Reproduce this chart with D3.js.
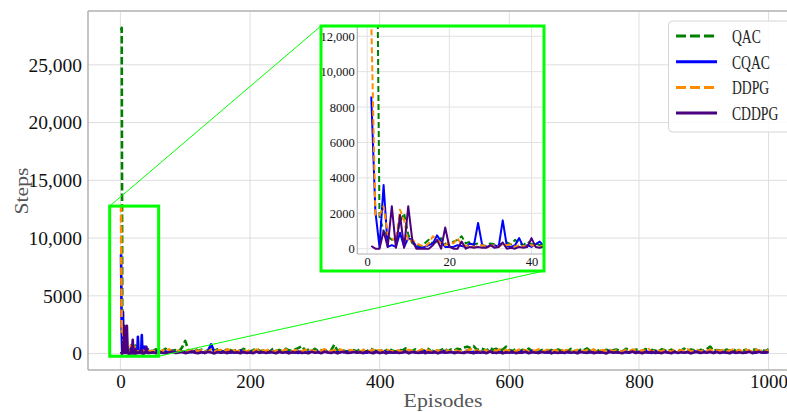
<!DOCTYPE html>
<html>
<head>
<meta charset="utf-8">
<script src="https://cdn.jsdelivr.net/npm/d3@7"></script>
<style>
  body { margin: 0; background: #fff; }
  .tick text { font-family: "Liberation Serif", "DejaVu Serif", serif; fill: #111; }
  .axlabel { font-family: "Liberation Serif", serif; fill: #555; }
</style>
</head>
<body>
<svg id="chart" width="787" height="412"></svg>
<script>
"use strict";

// episodes 1..44, one value per episode
var earlyQAC = [28000, 28200, 1800, 1000, 700, 500, 600, 1500, 2000, 800, 300, 200, 100, 300, 500, 300,
  400, 600, 300, 200, 400, 500, 700, 300, 400, 250, 300, 200, 150, 300, 250, 200, 300, 350, 250, 500,
  300, 200, 400, 250, 300, 200, 250, 350];
var earlyCQAC = [8600, 2100, 100, 3600, 100, 200, 100, 900, 100, 600, 500, 100, 50, 100, 200, 300,
  750, 400, 100, 100, 100, 200, 150, 100, 300, 200, 1450, 200, 100, 150, 200, 100, 1600, 150, 100, 200,
  600, 100, 200, 100, 250, 400, 150, 200];
var earlyDDPG = [12900, 1900, 1900, 2400, 800, 600, 400, 2200, 1600, 400, 500, 300, 200, 100, 300, 700,
  500, 300, 200, 400, 300, 600, 200, 150, 200, 100, 150, 200, 100, 150, 200, 100, 250, 200, 250, 100,
  200, 150, 100, 200, 150, 100, 200, 250];
var earlyCDDPG = [150, 0, 0, 1000, 100, 2400, 50, 1900, 50, 2400, 450, 0, 0, 0, 0, 200,
  500, 0, 1200, 100, 0, 0, 400, 0, 100, 50, 100, 50, 50, 200, 50, 100, 350, 0, 50, 0,
  100, 50, 100, 600, 100, 50, 100, 80];

// episodes 45..1000, read every 5th episode
var tailQAC = [
  320, 210, 380, 150, 260, 420, 180, 240, 300, 170, 520, 1100, 280, 190, 460, 230,
  340, 160, 290, 600, 210, 380, 250, 170, 430, 300, 190, 360, 220, 410, 260, 180,
  300, 450, 200, 270, 350, 160, 390, 240, 310, 190, 420, 280, 230, 370, 500, 650,
  260, 330, 180, 410, 240, 300, 170, 360, 280, 770, 220, 390, 250, 180, 340, 290,
  200, 380, 260, 150, 430, 310, 220, 350, 190, 280, 400, 240, 170, 330, 260, 450,
  290, 210, 370, 180, 320, 250, 410, 160, 340, 230, 300, 480, 200, 360, 270, 420,
  350, 520, 600, 480, 650, 310, 440, 380, 260, 500, 330, 410, 280, 360, 600, 300,
  240, 380, 190, 320, 270, 430, 210, 350, 180, 290, 400, 230, 310, 170, 360, 250,
  300, 200, 410, 260, 180, 340, 290, 450, 220, 310, 170, 380, 250, 330, 190, 280,
  360, 240, 180, 420, 300, 210, 350, 270, 190, 400, 230, 320, 260, 170, 380, 290,
  220, 340, 190, 310, 260, 430, 200, 360, 280, 180, 330, 250, 410, 600, 240, 300,
  270, 190, 350, 230, 400, 180, 310, 260, 340, 210, 290, 370, 240, 320, 200, 380];
var tailCQAC = [
  150, 90, 210, 120, 60, 180, 100, 250, 80, 140, 200, 70, 160, 110, 230, 90,
  130, 60, 190, 800, 110, 170, 80, 220, 140, 70, 190, 100, 260, 120, 80, 150,
  100, 180, 60, 210, 130, 90, 240, 70, 160, 110, 200, 80, 150, 120, 60, 190,
  140, 80, 230, 100, 170, 60, 200, 120, 90, 180, 70, 250, 110, 150, 80, 210,
  90, 160, 120, 70, 220, 100, 180, 60, 140, 200, 90, 130, 80, 240, 110, 170,
  60, 190, 100, 150, 80, 210, 120, 70, 180, 130, 90, 230, 110, 160, 70, 200,
  120, 80, 260, 100, 150, 70, 190, 130, 90, 220, 60, 170, 110, 140, 80, 210,
  100, 160, 70, 200, 130, 90, 240, 110, 60, 180, 140, 80, 220, 100, 150, 70,
  190, 120, 80, 170, 60, 230, 110, 150, 90, 200, 130, 70, 180, 100, 250, 80,
  140, 90, 210, 120, 70, 190, 100, 160, 80, 230, 110, 60, 170, 140, 90, 200,
  70, 180, 120, 90, 240, 100, 150, 60, 210, 130, 80, 190, 110, 160, 70, 220,
  100, 150, 80, 200, 130, 60, 180, 110, 90, 230, 120, 70, 170, 140, 80, 190];
var tailDDPG = [
  250, 180, 320, 140, 280, 210, 360, 170, 300, 230, 150, 340, 200, 270, 390, 160,
  290, 220, 150, 350, 190, 260, 310, 140, 380, 210, 270, 170, 330, 240, 180, 300,
  200, 340, 160, 280, 230, 370, 150, 250, 310, 190, 360, 220, 140, 290, 260, 180,
  330, 210, 270, 160, 300, 240, 380, 170, 230, 290, 150, 350, 200, 260, 310, 190,
  240, 150, 320, 270, 180, 340, 210, 290, 160, 370, 230, 190, 300, 250, 140, 280,
  310, 200, 250, 170, 360, 220, 280, 150, 330, 260, 190, 300, 240, 160, 350, 210,
  180, 290, 230, 380, 200, 270, 160, 320, 250, 140, 310, 220, 360, 190, 280, 240,
  260, 170, 340, 210, 300, 150, 280, 230, 370, 190, 250, 320, 160, 290, 220, 350,
  200, 310, 240, 160, 330, 270, 180, 300, 220, 360, 150, 260, 290, 200, 340, 170,
  280, 230, 150, 320, 190, 350, 250, 170, 300, 220, 380, 160, 270, 240, 190, 310,
  250, 160, 330, 200, 280, 230, 370, 180, 260, 310, 150, 290, 220, 340, 190, 270,
  230, 300, 170, 260, 340, 200, 290, 150, 320, 240, 180, 350, 210, 270, 160, 300];
var tailCDDPG = [
  60, 120, 30, 150, 80, 20, 110, 170, 50, 90, 140, 40, 100, 180, 70, 30,
  130, 60, 160, 90, 20, 140, 70, 110, 40, 190, 80, 120, 30, 150, 60, 100,
  40, 170, 80, 120, 50, 140, 90, 30, 160, 70, 110, 20, 130, 80, 180, 50,
  100, 30, 150, 70, 120, 40, 170, 90, 60, 130, 20, 110, 160, 50, 80, 140,
  70, 120, 40, 180, 90, 30, 140, 60, 110, 20, 150, 80, 130, 50, 100, 170,
  30, 140, 90, 60, 160, 40, 110, 80, 130, 20, 170, 70, 100, 150, 40, 120,
  80, 50, 130, 100, 30, 160, 70, 120, 40, 180, 90, 60, 140, 20, 110, 80,
  150, 40, 100, 70, 170, 30, 120, 90, 50, 140, 80, 160, 20, 110, 60, 130,
  50, 160, 80, 120, 30, 140, 100, 60, 170, 40, 90, 130, 70, 20, 150, 100,
  120, 70, 40, 150, 90, 180, 50, 110, 30, 130, 80, 160, 60, 100, 40, 140,
  90, 30, 170, 60, 120, 80, 140, 20, 100, 160, 50, 110, 70, 150, 40, 130,
  60, 140, 100, 30, 160, 80, 120, 50, 90, 170, 40, 110, 150, 70, 130, 90];

var seriesNames = ["QAC", "CQAC", "DDPG", "CDDPG"];
var xTicks = [0, 200, 400, 600, 800, 1000];
var yTicks = [0, 5000, 10000, 15000, 20000, 25000];
var insetXTicks = [0, 20, 40];
var insetYTicks = [0, 2000, 4000, 6000, 8000, 10000, 12000];

var colors = { QAC: "#008000", CQAC: "#0000ff", DDPG: "#ff8c00", CDDPG: "#4b0082" };
var dashed = { QAC: true, CQAC: false, DDPG: true, CDDPG: false };

function toPoints(early, tail) {
  var pts = early.map(function(v, i) { return { ep: i + 1, v: v }; });
  tail.forEach(function(v, i) { pts.push({ ep: 45 + 5 * i, v: v }); });
  return pts;
}
var series = [
  { name: "QAC", pts: toPoints(earlyQAC, tailQAC) },
  { name: "CQAC", pts: toPoints(earlyCQAC, tailCQAC) },
  { name: "DDPG", pts: toPoints(earlyDDPG, tailDDPG) },
  { name: "CDDPG", pts: toPoints(earlyCDDPG, tailCDDPG) }
];

var fmt = function(d) { return d >= 10000 ? d3.format(",")(d) : d3.format("d")(d); };

var svg = d3.select("#chart");

// main axes
var L = 88, T = 11, R = 801, B = 370;
var x = d3.scaleLinear().domain([-50, 1050]).range([L, R]);
var y = d3.scaleLinear().domain([-1420, 29660]).range([B, T]);

var defs = svg.append("defs");
defs.append("clipPath").attr("id", "clipMain")
  .append("rect").attr("x", L).attr("y", T).attr("width", R - L).attr("height", B - T);

var grid = svg.append("g");
grid.selectAll(".gx").data(xTicks).enter().append("line")
  .attr("x1", x).attr("x2", x).attr("y1", T).attr("y2", B)
  .attr("stroke", "#dedede").attr("stroke-width", 1);
grid.selectAll(".gy").data(yTicks).enter().append("line")
  .attr("y1", y).attr("y2", y).attr("x1", L).attr("x2", R)
  .attr("stroke", "#dedede").attr("stroke-width", 1);

var line = d3.line().x(function(d) { return x(d.ep); }).y(function(d) { return y(d.v); });

var main = svg.append("g").attr("clip-path", "url(#clipMain)");
series.forEach(function(s) {
  main.append("path").datum(s.pts)
    .attr("d", line)
    .attr("fill", "none")
    .attr("stroke", colors[s.name])
    .attr("stroke-width", 2.6)
    .attr("stroke-linejoin", "round")
    .attr("stroke-dasharray", dashed[s.name] ? "7.5,3" : null);
});

// spines
svg.append("line").attr("x1", L).attr("x2", R).attr("y1", T).attr("y2", T).attr("stroke", "#b0b0b0").attr("stroke-width", 1.5);
svg.append("line").attr("x1", L).attr("x2", L).attr("y1", T).attr("y2", B).attr("stroke", "#b0b0b0").attr("stroke-width", 1.5);
svg.append("line").attr("x1", L).attr("x2", R).attr("y1", B).attr("y2", B).attr("stroke", "#b0b0b0").attr("stroke-width", 1.5);

var yAxis = svg.append("g").attr("transform", "translate(" + L + ",0)")
  .call(d3.axisLeft(y).tickValues(yTicks).tickFormat(fmt).tickSize(0).tickPadding(6));
yAxis.select(".domain").remove();
yAxis.selectAll("text").style("font-size", "19.5px");

var xAxis = svg.append("g").attr("transform", "translate(0," + B + ")")
  .call(d3.axisBottom(x).tickValues(xTicks).tickFormat(fmt).tickSize(0).tickPadding(4.5));
xAxis.select(".domain").remove();
xAxis.selectAll("text").style("font-size", "19px");

// axis labels are wider than Liberation Serif, so stretch them a bit
svg.append("g").attr("transform", "translate(28,191) rotate(-90) scale(1.2,1)")
  .append("text").attr("class", "axlabel")
  .attr("text-anchor", "middle")
  .style("font-size", "18px").text("Steps");
svg.append("g").attr("transform", "translate(443,407) scale(1.18,1)")
  .append("text").attr("class", "axlabel")
  .attr("text-anchor", "middle")
  .style("font-size", "18.5px").text("Episodes");

// zoom region marked on the main plot
var zoomX = [-16.5, 59], zoomY = [-230, 12770];
var insetBox = { x0: 321, y0: 26, x1: 544, y1: 271 };
var zb = { x0: x(zoomX[0]), x1: x(zoomX[1]), y0: y(zoomY[1]), y1: y(zoomY[0]) };

svg.append("line").attr("x1", zb.x0).attr("y1", zb.y0).attr("x2", insetBox.x0).attr("y2", insetBox.y0)
  .attr("stroke", "#00ff00").attr("stroke-width", 1);
svg.append("line").attr("x1", zb.x1).attr("y1", zb.y1).attr("x2", insetBox.x1).attr("y2", insetBox.y1)
  .attr("stroke", "#00ff00").attr("stroke-width", 1);
svg.append("rect").attr("x", zb.x0).attr("y", zb.y0)
  .attr("width", zb.x1 - zb.x0).attr("height", zb.y1 - zb.y0)
  .attr("fill", "none").attr("stroke", "#00ff00").attr("stroke-width", 3);

// inset
var iL = 357.3, iT = 26, iR = 543, iB = 254;
var ix = d3.scaleLinear().domain([-2.4, 42.8]).range([iL, iR]);
var iy = d3.scaleLinear().domain([-300, 12580]).range([iB, iT]);

svg.append("rect").attr("x", insetBox.x0).attr("y", insetBox.y0)
  .attr("width", insetBox.x1 - insetBox.x0).attr("height", insetBox.y1 - insetBox.y0)
  .attr("fill", "#fff");

defs.append("clipPath").attr("id", "clipInset")
  .append("rect").attr("x", iL).attr("y", iT).attr("width", iR - iL).attr("height", iB - iT);

var ig = svg.append("g");
ig.selectAll(".igx").data(insetXTicks).enter().append("line")
  .attr("x1", ix).attr("x2", ix).attr("y1", iT).attr("y2", iB)
  .attr("stroke", "#e2e2e2").attr("stroke-width", 1);
ig.selectAll(".igy").data(insetYTicks).enter().append("line")
  .attr("y1", iy).attr("y2", iy).attr("x1", iL).attr("x2", iR)
  .attr("stroke", "#e2e2e2").attr("stroke-width", 1);

var iline = d3.line().x(function(d) { return ix(d.ep); }).y(function(d) { return iy(d.v); });
var inset = svg.append("g").attr("clip-path", "url(#clipInset)");
series.forEach(function(s) {
  inset.append("path").datum(s.pts)
    .attr("d", iline)
    .attr("fill", "none")
    .attr("stroke", colors[s.name])
    .attr("stroke-width", 2)
    .attr("stroke-linejoin", "round")
    .attr("stroke-dasharray", dashed[s.name] ? "6,3" : null);
});

svg.append("line").attr("x1", iL).attr("x2", iL).attr("y1", iT).attr("y2", iB).attr("stroke", "#b0b0b0").attr("stroke-width", 1.2);
svg.append("line").attr("x1", iL).attr("x2", iR).attr("y1", iB).attr("y2", iB).attr("stroke", "#b0b0b0").attr("stroke-width", 1.2);

var iyAxis = svg.append("g").attr("transform", "translate(" + iL + ",0)")
  .call(d3.axisLeft(iy).tickValues(insetYTicks).tickFormat(fmt).tickSize(0).tickPadding(2.5));
iyAxis.select(".domain").remove();
iyAxis.selectAll("text").style("font-size", "12.5px");
var ixAxis = svg.append("g").attr("transform", "translate(0," + iB + ")")
  .call(d3.axisBottom(ix).tickValues(insetXTicks).tickFormat(fmt).tickSize(0).tickPadding(3.5));
ixAxis.select(".domain").remove();
ixAxis.selectAll("text").style("font-size", "12.5px");

svg.append("rect").attr("x", insetBox.x0).attr("y", insetBox.y0)
  .attr("width", insetBox.x1 - insetBox.x0).attr("height", insetBox.y1 - insetBox.y0)
  .attr("fill", "none").attr("stroke", "#00ff00").attr("stroke-width", 3);

// legend
var lg = svg.append("g");
lg.append("rect").attr("x", 668.5).attr("y", 21).attr("width", 130).attr("height", 111)
  .attr("rx", 4).attr("fill", "#fff").attr("fill-opacity", 0.85)
  .attr("stroke", "#d6d6d6").attr("stroke-width", 1);
seriesNames.forEach(function(n, i) {
  var ly = 36 + i * 25.7;
  lg.append("line").attr("x1", 676).attr("x2", 717).attr("y1", ly).attr("y2", ly)
    .attr("stroke", colors[n]).attr("stroke-width", 3)
    .attr("stroke-dasharray", dashed[n] ? "10,4" : null);
  lg.append("g").attr("transform", "translate(732," + (ly + 7) + ") scale(0.72,1)")
    .append("text")
    .style("font-family", "'Liberation Serif', serif").style("font-size", "19px")
    .style("fill", "#222").text(n);
});
</script>
</body>
</html>
